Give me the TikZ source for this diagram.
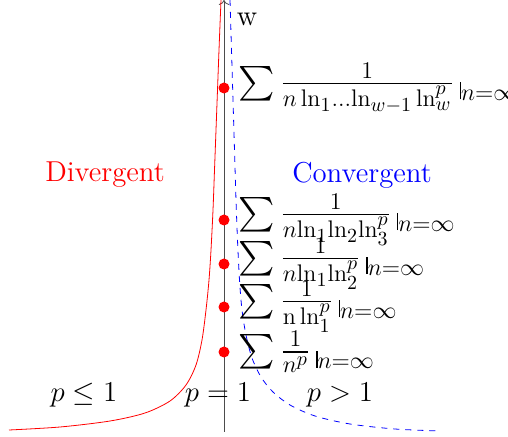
\documentclass[tikz,border=0pt]{standalone}
\usepackage{amsmath,amssymb,amsfonts}
\usepackage{xcolor}
\usepackage{tikz}
\usetikzlibrary{arrows.meta, positioning}

\begin{document}
\begin{tikzpicture}[
    x=0.5pt, y=-0.5pt,
    every node/.style={font=\Large},
    dot/.style={
        circle,
        fill=red,
        inner sep=0pt,
        minimum size=5.5pt
    },
    series/.style={
        inner sep=0pt,
        font=\LARGE
    },
    region/.style={
        inner sep=0pt
    },
    arrow/.style={->}
]
\useasboundingbox (0,0) rectangle (508,437);

\coordinate (base) at (224,432);
\coordinate (tip)  at (224,0);
\draw [arrow, black!70] (base) -- (tip);
\node (w) [region] at (247,19) {w};

\draw [red] plot [smooth] coordinates {(9,430) (60,427) (110,421) (145,413) (170,401) (186,385) (196,365) (202,340) (206,310) (209,280) (211,250) (213,210) (214.5,170) (216,130) (217.5,90) (219,50) (221,0)};
\draw [blue, dashed] plot [smooth] coordinates {(230,0) (231.5,50) (233,100) (234.5,150) (236,200) (237.5,240) (239.5,280) (242,310) (246,335) (252,358) (261,377) (273,392) (290,405) (315,416) (350,424) (395,429) (440,431)};

\node (d1) [dot] at (224,352) {};
\node (d2) [dot] at (224,307) {};
\node (d3) [dot] at (224,264) {};
\node (d4) [dot] at (224,220) {};
\node (d5) [dot] at (224,88)  {};

\node (s1) [series, right=4pt of d1] {$\sum \frac{1}{n^p}\,\rule[-3.5pt]{0.7pt}{8.5pt}_{n=\infty}$};
\node (s2) [series, right=4pt of d2] {$\sum \frac{1}{\mathrm{n}\ln_1^p}\,\rule[-3.5pt]{0.7pt}{8.5pt}_{n=\infty}$};
\node (s3) [series, right=4pt of d3] {$\sum \frac{1}{n\mathrm{ln}_1\mathrm{ln}_2^p}\,\rule[-3.5pt]{0.7pt}{8.5pt}_{n=\infty}$};
\node (s4) [series, right=4pt of d4] {$\sum \frac{1}{n\mathrm{ln}_1\mathrm{ln}_2\mathrm{ln}_3^p}\,\rule[-3.5pt]{0.7pt}{8.5pt}_{n=\infty}$};
\node (s5) [series, right=4pt of d5] {$\sum \frac{1}{n\ln_1\ldots\mathrm{ln}_{w-1}\ln_w^p}\,\rule[-3.5pt]{0.7pt}{8.5pt}_{n=\infty}$};

\node (div)  [region, text=red]  at (105,175) {Divergent};
\node (conv) [region, text=blue] at (362,175) {Convergent};

\node (pl) [region] at (84,395)  {$p\leq1$};
\node (pe) [region] at (218,395) {$p=1$};
\node (pg) [region] at (340,395) {$p>1$};

\end{tikzpicture}
\end{document}
